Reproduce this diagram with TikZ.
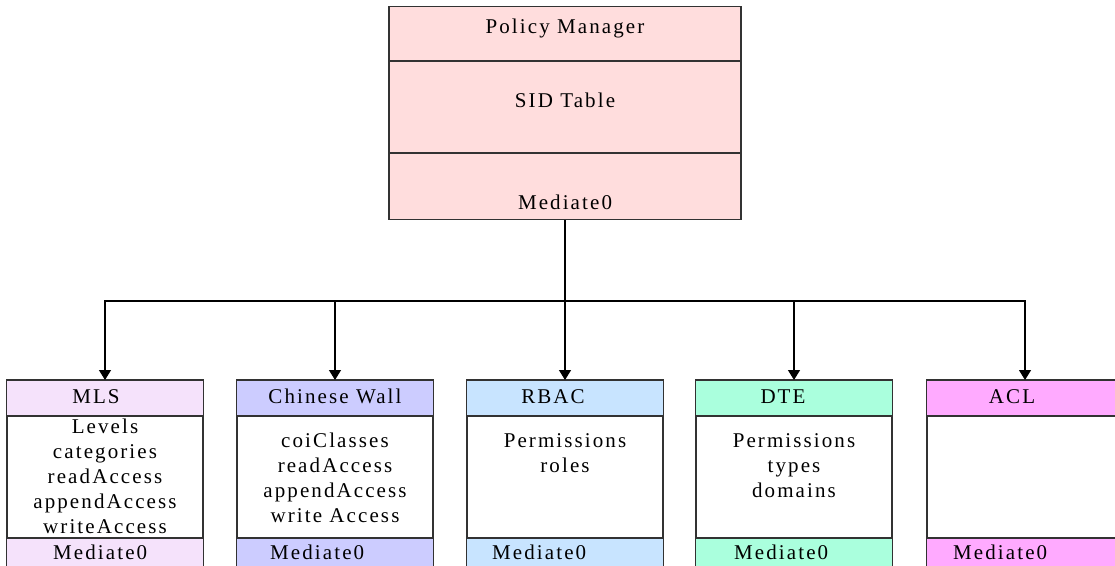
\documentclass[tikz,border=0pt]{standalone}
\usepackage{fontspec}
\setmainfont{Liberation Serif}[LetterSpace=10]
\usetikzlibrary{arrows.meta,calc}
\definecolor{pmfill}{RGB}{255,221,221}
\definecolor{mlsfill}{RGB}{245,226,251}
\definecolor{cwfill}{RGB}{204,204,255}
\definecolor{rbacfill}{RGB}{200,228,255}
\definecolor{dtefill}{RGB}{170,255,221}
\definecolor{aclfill}{RGB}{255,170,255}
\definecolor{edge}{RGB}{50,50,50}
\tikzset{
  box/.style={draw=edge,line width=1.1pt,minimum width=#1,inner sep=0pt,anchor=north},
  lbl/.style={font=\fontsize{21}{25}\selectfont,anchor=base,inner sep=0pt},
  conn/.style={line width=1.3pt,-{Triangle[width=12pt,length=10pt]}},
  rule/.style={draw=edge,line width=1.1pt},
}
\begin{document}
\begin{tikzpicture}[x=1pt,y=-1pt]
\useasboundingbox (0,0) rectangle (1115,565);
\clip (0,0) rectangle (1115,565);
% Policy manager
\node[box=352pt,minimum height=213pt,fill=pmfill] (pm) at (565,6) {};
\draw[rule] ($(pm.north west)+(0,55)$) coordinate (d1) -- (d1 -| pm.east);
\draw[rule] ($(pm.north west)+(0,147)$) coordinate (d2) -- (d2 -| pm.east);
\node[lbl] (pmt) at (565,33) {Policy Manager};
\node[lbl] (sid) at (565,107) {SID Table};
\node[lbl] (pmm) at (565,209) {Mediate0};
\coordinate (bus) at ($(pm.south)+(0,81)$);
\draw[line width=1.3pt] (pm.south) -- (bus);
% child boxes
\foreach \n/\x/\c/\mx in {mls/105/mlsfill/53,cw/335/cwfill/270,rbac/565/rbacfill/492,dte/794/dtefill/734,acl/1025/aclfill/953}{
  \node[box=196pt,minimum height=200pt,fill=white] (\n) at (\x,380) {};
  \fill[\c] (\n.north west) rectangle ($(\n.north east)+(0,36)$);
  \fill[\c] ($(\n.north west)+(0,158)$) rectangle (\n.south east);
  \draw[rule] (\n.north west) rectangle (\n.south east);
  \draw[rule] ($(\n.north west)+(0,36)$) -- ($(\n.north east)+(0,36)$);
  \draw[rule] ($(\n.north west)+(0,158)$) -- ($(\n.north east)+(0,158)$);
  \node[lbl,anchor=base west] (\n m) at (\mx,559) {Mediate0};
  \draw[conn] (bus) -| (\n.north);
}
\node[lbl] (mlst) at (96,403) {MLS};
\node[lbl] (cwt) at (335,403) {Chinese Wall};
\node[lbl] (rbact) at (553,403) {RBAC};
\node[lbl] (dtet) at (783,403) {DTE};
\node[lbl] (aclt) at (1012,403) {ACL};
% MLS body
\node[lbl] (mls1) at (105,433) {Levels};
\node[lbl] (mls2) at (105,458) {categories};
\node[lbl] (mls3) at (105,483) {readAccess};
\node[lbl] (mls4) at (105,508) {appendAccess};
\node[lbl] (mls5) at (105,533) {writeAccess};
% Chinese wall body
\node[lbl] (cw1) at (335,447) {coiClasses};
\node[lbl] (cw2) at (335,472) {readAccess};
\node[lbl] (cw3) at (335,497) {appendAccess};
\node[lbl] (cw4) at (335,522) {write Access};
% RBAC body
\node[lbl] (rb1) at (565,447) {Permissions};
\node[lbl] (rb2) at (565,472) {roles};
% DTE body
\node[lbl] (dt1) at (794,447) {Permissions};
\node[lbl] (dt2) at (794,472) {types};
\node[lbl] (dt3) at (794,497) {domains};
\end{tikzpicture}
\end{document}
